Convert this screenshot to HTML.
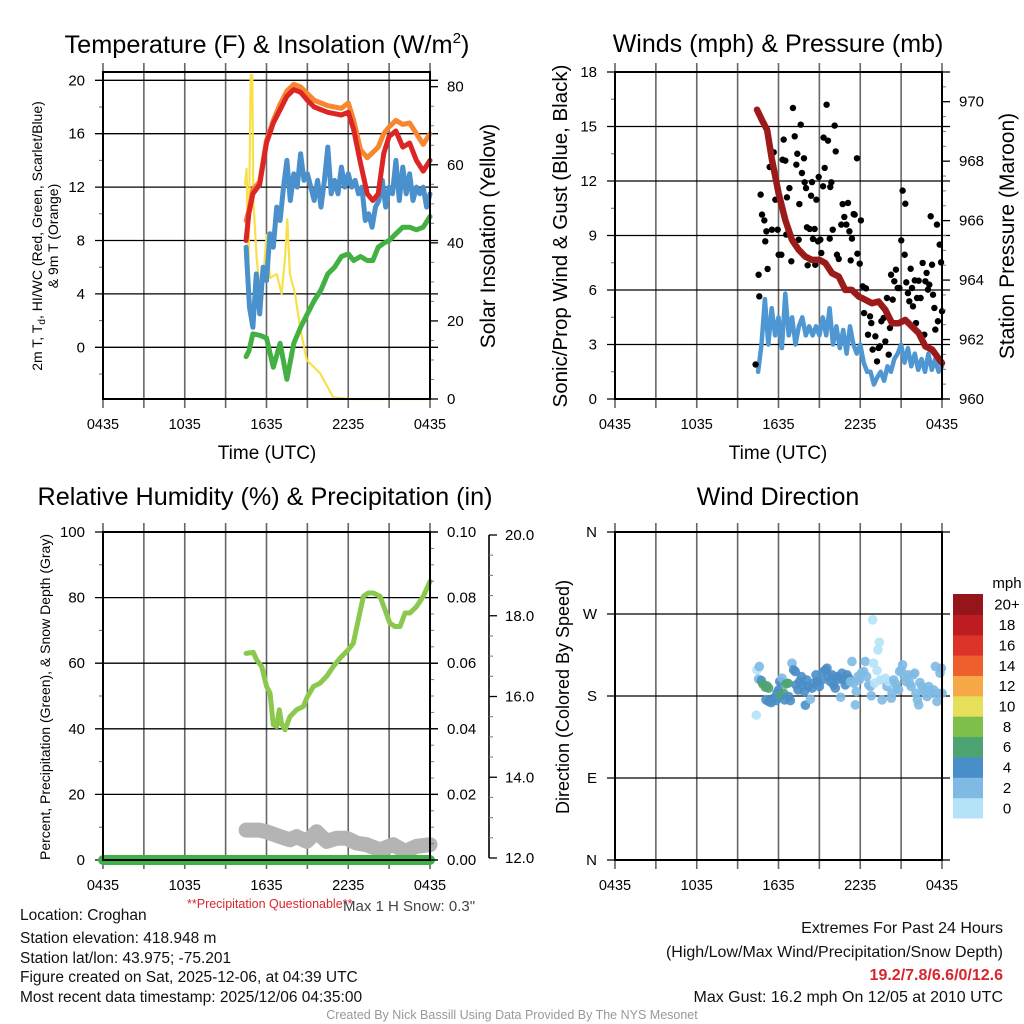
<!DOCTYPE html>
<html><head><meta charset="utf-8"><title>Croghan Meteogram</title>
<style>
html,body{margin:0;padding:0;background:#fff;}
svg{display:block;font-family:"Liberation Sans",Arial,sans-serif;}
</style></head>
<body>
<svg id="fig" width="1024" height="1024" viewBox="0 0 1024 1024" xmlns="http://www.w3.org/2000/svg">
<rect x="0" y="0" width="1024" height="1024" fill="#fff"/>
<g id="layer-grid"></g>
<g id="layer-data"></g>
<g id="layer-frame"></g>
<!-- titles -->
<text x="267" y="53" font-size="25" text-anchor="middle" textLength="405" lengthAdjust="spacingAndGlyphs">Temperature (F) &amp; Insolation (W/m<tspan font-size="15" dy="-10">2</tspan><tspan dy="10">)</tspan></text>
<text x="778" y="52" font-size="25" text-anchor="middle">Winds (mph) &amp; Pressure (mb)</text>
<text x="265" y="505" font-size="25" text-anchor="middle" textLength="455" lengthAdjust="spacingAndGlyphs">Relative Humidity (%) &amp; Precipitation (in)</text>
<text x="778" y="505" font-size="25" text-anchor="middle">Wind Direction</text>
<!-- axis titles -->
<text x="267" y="459" font-size="19" text-anchor="middle">Time (UTC)</text>
<text x="778" y="459" font-size="19" text-anchor="middle">Time (UTC)</text>
<text transform="translate(42,236) rotate(-90)" font-size="14" text-anchor="middle">2m T, T<tspan font-size="10" dy="3">d</tspan><tspan dy="-3">, HI/WC (Red, Green, Scarlet/Blue)</tspan></text>
<text transform="translate(58,236) rotate(-90)" font-size="14" text-anchor="middle">&amp; 9m T (Orange)</text>
<text transform="translate(495,236) rotate(-90)" font-size="21" text-anchor="middle">Solar Insolation (Yellow)</text>
<text transform="translate(567,236) rotate(-90)" font-size="20.5" text-anchor="middle">Sonic/Prop Wind &amp; Gust (Blue, Black)</text>
<text transform="translate(1014,236) rotate(-90)" font-size="21" text-anchor="middle">Station Pressure (Maroon)</text>
<text transform="translate(50,697) rotate(-90)" font-size="14" text-anchor="middle">Percent, Precipitation (Green), &amp; Snow Depth (Gray)</text>
<text transform="translate(569,697) rotate(-90)" font-size="18" text-anchor="middle">Direction (Colored By Speed)</text>
<!-- notes -->
<text x="187" y="908" font-size="12.5" fill="#d7262e">**Precipitation Questionable**</text>
<text x="343" y="911" font-size="15" fill="#444">Max 1 H Snow: 0.3"</text>
<g font-size="15.5" fill="#111">
<text x="20" y="920">Location: Croghan</text>
<text x="20" y="943">Station elevation: 418.948 m</text>
<text x="20" y="963">Station lat/lon: 43.975; -75.201</text>
<text x="20" y="982">Figure created on Sat, 2025-12-06, at 04:39 UTC</text>
<text x="20" y="1002">Most recent data timestamp: 2025/12/06 04:35:00</text>
</g>
<g font-size="16" text-anchor="end" fill="#111">
<text x="1003" y="933">Extremes For Past 24 Hours</text>
<text x="1003" y="957">(High/Low/Max Wind/Precipitation/Snow Depth)</text>
<text x="1003" y="980" fill="#d7262e" font-weight="bold">19.2/7.8/6.6/0/12.6</text>
<text x="1003" y="1002">Max Gust: 16.2 mph On 12/05 at 2010 UTC</text>
</g>
<text x="512" y="1019" font-size="12.5" text-anchor="middle" fill="#999">Created By Nick Bassill Using Data Provided By The NYS Mesonet</text>
</svg>
<script>
// ---------- data (hours since 0435 UTC) ----------
const timeTicks = [0, 6, 12, 18, 24];
const timeTickLabels = ["0435", "1035", "1635", "2235", "0435"];
const gridHours = [0, 3, 6, 9, 12, 15, 18, 21, 24];

const tempTimes = [10.5,10.7,11,11.5,12,12.5,13,13.5,14,14.5,15,15.5,16,16.5,17,17.5,18,18.4,18.9,19.4,19.8,20.2,20.6,21,21.5,22,22.5,23,23.5,24];
const temp2m = [8.0,10.0,11.5,12.2,15.3,16.8,17.8,18.8,19.3,19.1,18.5,18.0,17.8,17.6,17.5,17.4,17.6,16.3,13.8,11.5,11.0,11.5,14.5,15.8,16.2,15.0,15.3,14.0,13.2,14.0];
const temp9m = [9.5,10.2,11.8,12.4,15.5,17.0,18.2,19.2,19.7,19.5,19.0,18.5,18.3,18.1,18.0,17.9,18.3,17.0,14.8,14.2,14.6,15.0,16.0,16.5,17.0,16.7,16.8,16.0,15.2,16.0];
const dewpoint = [-0.7,-0.3,1.0,0.9,0.7,-1.5,0.3,-2.4,0.3,1.5,2.5,3.5,4.3,5.5,6.0,6.8,7.0,6.5,6.8,6.5,6.5,7.5,7.8,8.0,8.5,9.0,9.0,8.8,9.0,9.8];

const chillTimes = [10.5,10.75,11,11.25,11.5,11.75,12,12.25,12.5,12.75,13,13.25,13.5,13.75,14,14.25,14.5,14.75,15,15.25,15.5,15.75,16,16.25,16.5,16.75,17,17.25,17.5,17.75,18,18.25,18.5,18.75,19,19.25,19.5,19.75,20,20.25,20.5,20.75,21,21.25,21.5,21.75,22,22.25,22.5,22.75,23,23.25,23.5,23.75,24];
const windChill = [7.5,3.0,1.5,5.5,2.5,6.0,5.0,8.5,7.5,10.5,9.5,12.0,14.0,11.0,13.0,12.0,14.5,12.5,13.0,12.0,11.0,12.5,10.5,12.5,15.0,11.5,12.5,11.5,13.5,12.0,13.0,12.0,12.5,11.5,12.0,9.5,10.0,9.0,10.5,11.0,12.5,10.5,12.0,11.5,14.0,11.0,13.5,11.5,13.0,11.0,12.0,11.5,12.0,10.5,11.5];

const solarTimes = [10.42,10.54,10.67,10.84,10.96,11.03,11.28,11.52,11.77,12.01,12.26,12.75,13.11,13.36,13.53,13.72,14.09,14.46,14.95,15.93,16.9,18.0,24.0];
const solar = [55,59,31,83,83,51,36,28,32,42,31,32,27,36,46,32,27,18.5,10,6.6,0.4,0,0];

const presTimes = [10.42,10.79,11.16,11.52,12.01,12.5,12.99,13.48,13.97,14.46,15.0,15.44,15.93,16.42,16.9,17.39,17.88,18.37,18.86,19.35,19.84,20.33,20.82,21.31,21.8,22.29,22.78,23.27,24.0];
const pressure = [969.73,969.38,969.05,968.04,966.92,966.02,965.35,965.02,964.79,964.68,964.68,964.57,964.23,964.12,963.67,963.67,963.45,963.34,963.22,963.28,963.0,962.55,962.55,962.66,962.44,962.22,961.77,961.66,961.21];

const windTimes = chillTimes;
const windSpeed = [1.5,3.0,5.5,3.0,5.0,3.5,4.5,2.8,5.8,3.5,4.5,3.0,4.0,4.5,3.5,4.0,3.5,4.0,3.5,4.5,3.5,5.0,3.0,4.0,2.8,3.8,2.5,4.0,3.0,2.5,3.0,2.0,1.5,1.5,0.8,1.2,1.5,1.0,1.8,1.5,2.2,2.5,3.0,2.0,2.8,1.8,2.5,1.6,2.2,1.5,2.5,1.6,2.2,1.5,1.8];

const gustTimes = [10.32,10.54,10.59,10.69,10.79,10.96,11.03,11.11,11.2,11.35,11.52,11.65,11.77,11.94,12.01,12.21,12.3,12.38,12.5,12.57,12.62,12.8,12.94,13.06,13.19,13.31,13.38,13.48,13.53,13.63,13.72,13.87,13.92,14.02,14.09,14.14,14.29,14.39,14.46,14.53,14.65,14.7,14.78,14.9,14.95,15.07,15.14,15.27,15.31,15.39,15.53,15.63,15.76,15.8,15.88,15.98,16.12,16.2,16.29,16.42,16.61,16.71,16.83,16.98,17.1,17.2,17.3,17.39,17.52,17.59,17.76,17.79,17.96,18.05,18.18,18.28,18.42,18.57,18.72,18.81,18.91,19.11,19.23,19.35,19.44,19.55,19.72,19.84,19.96,20.09,20.18,20.26,20.38,20.5,20.62,20.75,20.87,21.01,21.11,21.26,21.31,21.38,21.5,21.6,21.7,21.8,21.87,22.0,22.09,22.17,22.29,22.43,22.58,22.7,22.78,22.87,22.97,23.07,23.17,23.27,23.34,23.44,23.51,23.63,23.7,23.83,23.93,24.0];
const gusts = [1.9,6.84,5.65,11.25,10.15,9.83,8.68,9.23,7.16,12.77,9.32,13.58,10.97,9.32,7.94,7.94,13.17,14.28,13.12,9.05,11.1,11.61,7.58,16.02,14.46,12.9,13.5,8.77,10.73,15.1,12.44,13.25,11.93,11.61,9.45,7.36,9.36,11.19,11.94,8.81,9.36,7.39,10.97,8.68,12.22,8.77,8.04,11.71,14.39,12.72,16.2,14.22,8.83,11.67,11.93,9.32,15.05,13.63,7.94,7.71,9.6,10.73,10.02,9.6,10.79,9.23,7.63,8.83,10.18,10.15,13.25,8.0,7.45,9.83,6.2,4.73,6.09,3.54,4.55,4.18,2.72,3.45,2.07,2.81,2.9,4.28,4.46,3.17,5.56,2.44,3.91,6.84,5.47,6.48,7.12,6.11,6.11,8.73,11.47,7.94,10.75,6.42,5.83,5.38,7.17,6.11,5.1,6.53,4.18,5.56,6.51,5.56,7.49,3.54,6.48,6.94,6.02,6.29,10.06,7.39,5.74,5.01,3.82,9.6,4.28,8.5,7.52,4.83];

const rhTimes = [10.5,11.03,11.28,11.65,12.01,12.26,12.5,12.75,12.94,13.11,13.36,13.72,14.21,14.7,15.0,15.44,15.93,16.42,16.9,17.39,18.0,18.37,18.74,19.11,19.47,19.84,20.33,20.7,21.06,21.43,21.8,22.17,22.53,23.02,23.51,24.0];
const relHumidity = [63,63.3,61,59,52.9,50.9,41.2,40.7,45.8,41.5,39.7,43.7,45.8,46.8,49.8,52.9,53.9,56,59,61.5,64.1,66.1,73.2,80.4,81.4,81.4,80.4,76.3,72.2,71.2,71.2,75.3,75.3,77.3,80.4,84.9];

const precipTimes = [0, 6, 12, 18, 24];
const precip = [0, 0, 0, 0, 0];

const snowTimes = [10.5,11.0,11.5,12.01,12.99,13.72,14.21,14.95,15.68,16.42,17.15,17.88,18.62,19.35,20.33,21.31,22.17,23.02,24.0];
const snowDepth = [12.69,12.69,12.69,12.65,12.53,12.45,12.53,12.41,12.65,12.41,12.49,12.49,12.37,12.33,12.2,12.33,12.16,12.29,12.33];

const dirTimes = [10.37,10.42,10.59,10.54,10.74,10.84,11.03,11.16,11.28,11.08,11.28,11.47,11.65,11.82,11.89,12.01,12.09,12.16,12.26,12.38,12.45,12.55,12.7,12.75,12.87,12.99,13.11,13.23,13.28,13.43,13.55,13.68,13.77,13.9,13.97,14.07,14.17,14.34,14.46,14.58,14.75,14.85,15.0,15.19,15.31,15.44,15.56,15.68,15.8,15.93,16.05,16.17,16.29,16.42,16.56,16.66,16.78,16.9,17.03,17.15,17.27,17.39,17.52,17.64,17.71,17.83,17.93,18.07,18.25,18.37,18.47,18.62,18.74,18.81,18.91,18.98,19.06,19.23,19.3,19.4,19.47,19.6,19.72,19.84,19.96,20.09,20.28,20.33,20.45,20.57,20.7,20.82,20.89,21.01,21.11,21.23,21.35,21.5,21.62,21.74,21.87,22.0,22.09,22.19,22.29,22.38,22.53,22.65,22.78,22.9,23.02,23.14,23.27,23.39,23.51,23.63,23.76,23.85,23.95,24.0];
const dirDegrees = [159,208.7,212.4,198.5,197,193.3,189.7,191,188.6,175.8,174,172.8,177.6,175,183,186.7,195.9,180.5,199.6,183,175.8,193.3,194,179.4,175,216,208.7,206.9,192.2,186.7,195.9,201.4,192.2,184.9,169.9,197.7,190.4,176.5,188.6,194.1,203.2,195.9,190.4,197.7,206.9,208.7,210.5,201.4,195.9,203.2,192.2,188.6,201.4,198.5,178.7,205,197.7,192.2,203.2,199.6,195.9,217.9,194,170.3,184.9,201.4,197.7,205,206.9,217.9,201.4,192.2,190.4,180.2,263.6,216,194,208,230.7,239,197.7,175.8,197.7,199.6,190.4,195.9,177.6,183,197.7,194,188.6,186.7,206.9,208.7,214.2,201.4,195.9,203.2,194,190.4,203.2,205,183,175.8,170.3,194.8,190.4,184.9,186.7,179.4,190.4,184.9,183,186.7,212.4,174,183,205,210.5,183];
const dirSpeeds = [1,1,3,3,4,7,7,7,7,4,4,4,4,4,4,4,4,7,3,7,4,7,7,4,4,3,4,4,4,4,4,4,4,4,4,4,4,3,4,4,4,4,4,4,4,4,4,4,4,4,4,4,4,4,3,4,4,4,4,4,3,3,3,3,3,3,3,3,3,3,3,3,3,3,1,1,1,1,1,1,1,3,1,1,3,1,3,3,3,3,3,3,3,3,3,3,3,3,3,3,3,3,3,3,3,3,3,3,3,3,3,3,3,3,3,3,3,3,3,3];

const speedBinLabels = ["0","2","4","6","8","10","12","14","16","18","20+"];
const speedBinColors = ["#b4e2f7","#7ebae3","#4a8ec7","#4ba472","#7dbf4a","#e5df5a","#f5a845","#ee5f2d","#db3327","#bd1c23","#96151a"];

// ---------- helpers ----------
const NS = "http://www.w3.org/2000/svg";
const gGrid = document.getElementById("layer-grid");
const gData = document.getElementById("layer-data");
const gFrame = document.getElementById("layer-frame");
function el(tag, attrs, parent) {
  const e = document.createElementNS(NS, tag);
  for (const k in attrs) e.setAttribute(k, attrs[k]);
  (parent || gData).appendChild(e);
  return e;
}
function txt(s, attrs, parent) { const e = el("text", attrs, parent); e.textContent = s; return e; }

const P1 = {x0:103, x1:430, y0:72, y1:399};
const P2 = {x0:615, x1:942, y0:72, y1:399};
const P3 = {x0:103, x1:430, y0:532, y1:860};
const P4 = {x0:615, x1:942, y0:532, y1:860};
function xS(P, t) { return P.x0 + t / 24 * (P.x1 - P.x0); }
function lin(v0, p0, v1, p1) { return v => p0 + (v - v0) * (p1 - p0) / (v1 - v0); }

const yTemp = lin(0, 347.3, 20, 80.3);
const ySolar = lin(0, 399, 80, 86.7);
const yWind = lin(0, 399, 18, 72);
const yPres = lin(960, 399, 970, 101.7);
const yRH = lin(0, 860, 100, 532);
const yPrecip = lin(0, 860, 0.1, 532);
const ySnow = lin(12, 858, 20, 535);
const yDir = lin(0, 860, 360, 532);

function panelTimeGrid(P, key) {
  gridHours.forEach(h => {
    const x = xS(P, h);
    const ln = el("line", {x1:x, x2:x, y1:P.y0 - 9, y2:P.y1 + 9, stroke:"#666", "stroke-width":1.6}, gGrid);
    
    
  });
  timeTicks.forEach((h, i) => {
    const t = txt(timeTickLabels[i], {x:xS(P, h), y:P.y1 + 30, "font-size":14.5, "text-anchor":"middle"}, gFrame);
    
    
  });
}
function frame(P, key) {
  const r = el("rect", {x:P.x0, y:P.y0, width:P.x1 - P.x0, height:P.y1 - P.y0, fill:"none", stroke:"#000", "stroke-width":2}, gFrame);
  
  
}
function leftAxis(P, key, scale, majors, labels, minors, grid) {
  majors.forEach((v, i) => {
    const y = scale(v);
    if (grid) {
      const g = el("line", {x1:P.x0 - 8, x2:P.x1 + 8, y1:y, y2:y, stroke:"#000", "stroke-width":1.3}, gGrid);
      
      
    }
    const t = txt(labels[i], {x:P.x0 - 18, y:y + 5, "font-size":15, "text-anchor":"end"}, gFrame);
    
    
  });
  minors.forEach(v => {
    const y = scale(v);
    const m = el("line", {x1:P.x0 - 4, x2:P.x0, y1:y, y2:y, stroke:"#666", "stroke-width":1}, gFrame);
    
    
  });
}
function rightAxis(P, key, scale, majors, labels, minors, xoff) {
  const ax = P.x1 + (xoff || 0);
  majors.forEach((v, i) => {
    const y = scale(v);
    el("line", {x1:ax, x2:ax + 8, y1:y, y2:y, stroke:"#000", "stroke-width":1.3}, gFrame);
    const t = txt(labels[i], {x:ax + 17, y:y + 5, "font-size":15}, gFrame);
    
    
  });
  minors.forEach(v => {
    const y = scale(v);
    el("line", {x1:ax, x2:ax + 4, y1:y, y2:y, stroke:"#777", "stroke-width":1}, gFrame);
  });
}
function path(P, times, vals, scale, attrs, name) {
  const d = times.map((t, i) => (i ? "L" : "M") + xS(P, t).toFixed(1) + "," + scale(vals[i]).toFixed(1)).join("");
  const p = el("path", Object.assign({d:d, fill:"none", "stroke-linejoin":"round", "stroke-linecap":"round"}, attrs));
  
  
  return p;
}

// ---------- Panel 1: Temperature ----------
panelTimeGrid(P1, "temp");
leftAxis(P1, "temp", yTemp, [0,4,8,12,16,20], ["0","4","8","12","16","20"], [-2,2,6,10,14,18], true);
rightAxis(P1, "solar", ySolar, [0,20,40,60,80], ["0","20","40","60","80"], [5,10,15,25,30,35,45,50,55,65,70,75]);
path(P1, solarTimes, solar, ySolar, {stroke:"#f9e04b", "stroke-width":2.2}, "solar-insolation-line");
path(P1, tempTimes, dewpoint, yTemp, {stroke:"#43b043", "stroke-width":5}, "dewpoint-line");
path(P1, chillTimes, windChill, yTemp, {stroke:"#4a90cc", "stroke-width":5}, "wind-chill-line");
path(P1, tempTimes, temp9m, yTemp, {stroke:"#f7862f", "stroke-width":5}, "temp-9m-line");
path(P1, tempTimes, temp2m, yTemp, {stroke:"#dc2525", "stroke-width":5}, "temp-2m-line");
frame(P1, "temp");

// ---------- Panel 2: Winds ----------
panelTimeGrid(P2, "wind");
leftAxis(P2, "wind", yWind, [0,3,6,9,12,15,18], ["0","3","6","9","12","15","18"], [1.5,4.5,7.5,10.5,13.5,16.5], true);
rightAxis(P2, "pressure", yPres, [960,962,964,966,968,970], ["960","962","964","966","968","970"], [960.5,961,961.5,962.5,963,963.5,964.5,965,965.5,966.5,967,967.5,968.5,969,969.5,970.5]);
path(P2, windTimes, windSpeed, yWind, {stroke:"#4f97d2", "stroke-width":4.5}, "wind-speed-line");
gusts.forEach((g, i) => {
  const c = el("circle", {cx:xS(P2, gustTimes[i]), cy:yWind(g), r:3.2, fill:"#000"});
  
  
});
path(P2, presTimes, pressure, yPres, {stroke:"#9b1b1b", "stroke-width":6.5}, "pressure-line");
frame(P2, "wind");

// ---------- Panel 3: RH ----------
panelTimeGrid(P3, "rh");
leftAxis(P3, "rh", yRH, [0,20,40,60,80,100], ["0","20","40","60","80","100"], [10,30,50,70,90], true);
rightAxis(P3, "precip", yPrecip, [0,0.02,0.04,0.06,0.08,0.1], ["0.00","0.02","0.04","0.06","0.08","0.10"], [0.005,0.01,0.015,0.025,0.03,0.035,0.045,0.05,0.055,0.065,0.07,0.075,0.085,0.09,0.095]);
const snowAxisX = 489;
const sal = el("line", {x1:snowAxisX, x2:snowAxisX, y1:ySnow(20), y2:ySnow(12), stroke:"#000", "stroke-width":1.6}, gFrame);


[12,14,16,18,20].forEach(v => {
  el("line", {x1:snowAxisX, x2:snowAxisX + 8, y1:ySnow(v), y2:ySnow(v), stroke:"#000", "stroke-width":1.3}, gFrame);
  const t = txt(v.toFixed(1), {x:snowAxisX + 16, y:ySnow(v) + 5, "font-size":15}, gFrame);
  
  
});
[12.5,13,13.5,14.5,15,15.5,16.5,17,17.5,18.5,19,19.5].forEach(v => {
  el("line", {x1:snowAxisX, x2:snowAxisX + 4, y1:ySnow(v), y2:ySnow(v), stroke:"#777", "stroke-width":1}, gFrame);
});
path(P3, snowTimes, snowDepth, ySnow, {stroke:"#b4b4b4", "stroke-width":15}, "snow-depth-line");
path(P3, precipTimes, precip, yPrecip, {stroke:"#3fb045", "stroke-width":10}, "precipitation-line");
path(P3, rhTimes, relHumidity, yRH, {stroke:"#8cc84e", "stroke-width":5}, "relative-humidity-line");
frame(P3, "rh");

// ---------- Panel 4: Wind direction ----------
panelTimeGrid(P4, "dir");
leftAxis(P4, "dir", yDir, [0,90,180,270,360], ["N","E","S","W","N"], [], true);
dirDegrees.forEach((d, i) => {
  const bin = Math.min(10, Math.floor(dirSpeeds[i] / 2));
  const c = el("circle", {cx:xS(P4, dirTimes[i]), cy:yDir(d), r:4.8, fill:speedBinColors[bin], "fill-opacity":0.9});
  
  
});
frame(P4, "dir");

// colorbar
const cbX = 953, cbW = 30, cbTop = 594, cbBot = 818;
const segH = (cbBot - cbTop) / speedBinColors.length;
const cbTitle = txt("mph", {x:1007, y:588, "font-size":15, "text-anchor":"middle"}, gFrame);


speedBinColors.forEach((c, i) => {
  const y = cbBot - (i + 1) * segH;
  const r = el("rect", {x:cbX, y:y, width:cbW, height:segH + 0.5, fill:c}, gFrame);
  
  
  const t = txt(speedBinLabels[i], {x:1007, y:y + segH / 2 + 5.5, "font-size":15, "text-anchor":"middle"}, gFrame);
  
  
});
</script>
</body></html>
